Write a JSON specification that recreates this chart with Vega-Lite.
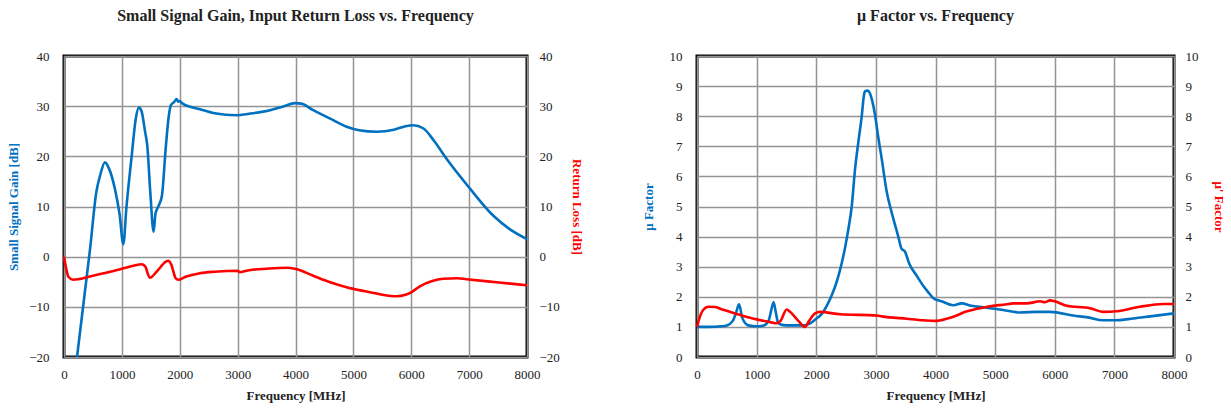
{
  "$schema": "https://vega.github.io/schema/vega-lite/v6.json",
  "padding": {"left": 6, "top": 6, "right": 2, "bottom": 2},
  "bounds": "flush",
  "spacing": 170,
  "config": {
    "font": "Liberation Serif",
    "view": {"stroke": "black", "strokeWidth": 3},
    "axis": {
      "gridColor": "#949494", "gridWidth": 1.5, "domain": false, "ticks": false,
      "labelFont": "Liberation Serif", "labelFontSize": 13, "labelColor": "#222222",
      "titleFont": "Liberation Serif", "titleFontSize": 13, "titleFontWeight": "bold", "titleColor": "#222222"
    },
    "title": {"font": "Liberation Serif", "fontSize": 16, "fontWeight": "bold", "color": "#222222", "offset": 26}
  },
  "datasets": {
    "gain": [
      {"f": 225, "v": -20}, {"f": 450, "v": 1.5}, {"f": 560, "v": 13}, {"f": 620, "v": 16}, {"f": 708, "v": 18.8},
      {"f": 780, "v": 17.5}, {"f": 880, "v": 13.5}, {"f": 960, "v": 8.5}, {"f": 1025, "v": 2.5}, {"f": 1080, "v": 10},
      {"f": 1169, "v": 20}, {"f": 1240, "v": 27.5}, {"f": 1295, "v": 29.7}, {"f": 1340, "v": 29}, {"f": 1400, "v": 25},
      {"f": 1440, "v": 22}, {"f": 1490, "v": 13}, {"f": 1549, "v": 5.0}, {"f": 1580, "v": 8.5}, {"f": 1620, "v": 9.8},
      {"f": 1690, "v": 12}, {"f": 1760, "v": 22}, {"f": 1810, "v": 28}, {"f": 1848, "v": 30.2}, {"f": 1900, "v": 30.8},
      {"f": 1946, "v": 31.4}, {"f": 1975, "v": 30.9}, {"f": 2000, "v": 31}, {"f": 2050, "v": 30.5}, {"f": 2349, "v": 29.4},
      {"f": 2600, "v": 28.6}, {"f": 2982, "v": 28.2}, {"f": 3200, "v": 28.5}, {"f": 3558, "v": 29.2}, {"f": 3800, "v": 30},
      {"f": 3990, "v": 30.6}, {"f": 4100, "v": 30.5}, {"f": 4306, "v": 29.2}, {"f": 4600, "v": 27.5}, {"f": 4883, "v": 25.9},
      {"f": 5100, "v": 25.2}, {"f": 5401, "v": 24.9}, {"f": 5700, "v": 25.3}, {"f": 5900, "v": 26}, {"f": 6033, "v": 26.2},
      {"f": 6206, "v": 25.6}, {"f": 6400, "v": 23}, {"f": 6610, "v": 19.5}, {"f": 7012, "v": 13.6}, {"f": 7415, "v": 8.2},
      {"f": 7700, "v": 5.5}, {"f": 8000, "v": 3.5}
    ],
    "rl": [
      {"f": 0, "v": 0}, {"f": 40, "v": -2.5}, {"f": 75, "v": -4.0}, {"f": 160, "v": -4.6}, {"f": 250, "v": -4.5},
      {"f": 500, "v": -3.8}, {"f": 800, "v": -3.0}, {"f": 1000, "v": -2.4}, {"f": 1200, "v": -1.8}, {"f": 1342, "v": -1.5},
      {"f": 1400, "v": -1.9}, {"f": 1485, "v": -4.2}, {"f": 1600, "v": -3.0}, {"f": 1760, "v": -1.0}, {"f": 1802, "v": -0.8},
      {"f": 1850, "v": -1.5}, {"f": 1930, "v": -4.3}, {"f": 1975, "v": -4.6}, {"f": 2100, "v": -4.0}, {"f": 2349, "v": -3.3},
      {"f": 2600, "v": -3.0}, {"f": 3000, "v": -2.8}, {"f": 3040, "v": -3.1}, {"f": 3200, "v": -2.7}, {"f": 3500, "v": -2.4},
      {"f": 3846, "v": -2.2}, {"f": 3990, "v": -2.4}, {"f": 4306, "v": -3.8}, {"f": 4600, "v": -5.1}, {"f": 4883, "v": -6.1},
      {"f": 5200, "v": -6.9}, {"f": 5458, "v": -7.5}, {"f": 5746, "v": -7.9}, {"f": 5900, "v": -7.6}, {"f": 6000, "v": -7.1},
      {"f": 6149, "v": -5.9}, {"f": 6350, "v": -4.9}, {"f": 6552, "v": -4.4}, {"f": 6800, "v": -4.3}, {"f": 6955, "v": -4.5},
      {"f": 7473, "v": -5.1}, {"f": 8000, "v": -5.7}
    ],
    "mu": [
      {"f": 0, "v": 1.0}, {"f": 200, "v": 1.0}, {"f": 400, "v": 1.02}, {"f": 500, "v": 1.05}, {"f": 600, "v": 1.2},
      {"f": 660, "v": 1.5}, {"f": 705, "v": 1.75}, {"f": 760, "v": 1.3}, {"f": 861, "v": 1.05}, {"f": 1001, "v": 1.02},
      {"f": 1120, "v": 1.05}, {"f": 1200, "v": 1.2}, {"f": 1250, "v": 1.6}, {"f": 1285, "v": 1.82}, {"f": 1320, "v": 1.5},
      {"f": 1364, "v": 1.12}, {"f": 1450, "v": 1.06}, {"f": 1560, "v": 1.05}, {"f": 1812, "v": 1.05}, {"f": 1900, "v": 1.12},
      {"f": 1980, "v": 1.24}, {"f": 2100, "v": 1.45}, {"f": 2176, "v": 1.7}, {"f": 2260, "v": 2.05}, {"f": 2343, "v": 2.5},
      {"f": 2400, "v": 2.9}, {"f": 2480, "v": 3.6}, {"f": 2539, "v": 4.25}, {"f": 2595, "v": 5.0}, {"f": 2651, "v": 6.25},
      {"f": 2710, "v": 7.2}, {"f": 2763, "v": 8.0}, {"f": 2800, "v": 8.7}, {"f": 2818, "v": 8.83}, {"f": 2860, "v": 8.85},
      {"f": 2890, "v": 8.8}, {"f": 2940, "v": 8.5}, {"f": 2985, "v": 8.05}, {"f": 3040, "v": 7.3}, {"f": 3097, "v": 6.6},
      {"f": 3181, "v": 5.5}, {"f": 3265, "v": 4.8}, {"f": 3320, "v": 4.4}, {"f": 3376, "v": 4.0}, {"f": 3430, "v": 3.6},
      {"f": 3488, "v": 3.5}, {"f": 3560, "v": 3.1}, {"f": 3685, "v": 2.7}, {"f": 3800, "v": 2.35}, {"f": 3900, "v": 2.1},
      {"f": 3964, "v": 1.95}, {"f": 4100, "v": 1.85}, {"f": 4300, "v": 1.72}, {"f": 4440, "v": 1.78}, {"f": 4600, "v": 1.7},
      {"f": 4803, "v": 1.65}, {"f": 5082, "v": 1.58}, {"f": 5417, "v": 1.48}, {"f": 5700, "v": 1.5}, {"f": 5920, "v": 1.5},
      {"f": 6311, "v": 1.38}, {"f": 6600, "v": 1.3}, {"f": 6800, "v": 1.22}, {"f": 7000, "v": 1.22}, {"f": 7317, "v": 1.28},
      {"f": 7600, "v": 1.35}, {"f": 8000, "v": 1.45}
    ],
    "mup": [
      {"f": 0, "v": 1.0}, {"f": 50, "v": 1.35}, {"f": 106, "v": 1.57}, {"f": 190, "v": 1.67}, {"f": 300, "v": 1.66},
      {"f": 441, "v": 1.57}, {"f": 721, "v": 1.4}, {"f": 1001, "v": 1.25}, {"f": 1200, "v": 1.17}, {"f": 1337, "v": 1.12},
      {"f": 1400, "v": 1.2}, {"f": 1504, "v": 1.58}, {"f": 1560, "v": 1.5}, {"f": 1700, "v": 1.2}, {"f": 1812, "v": 1.0},
      {"f": 1880, "v": 1.2}, {"f": 1980, "v": 1.45}, {"f": 2064, "v": 1.5}, {"f": 2400, "v": 1.42}, {"f": 3014, "v": 1.38},
      {"f": 3100, "v": 1.35}, {"f": 3517, "v": 1.27}, {"f": 3800, "v": 1.22}, {"f": 3993, "v": 1.2}, {"f": 4200, "v": 1.28},
      {"f": 4356, "v": 1.38}, {"f": 4500, "v": 1.5}, {"f": 4700, "v": 1.6}, {"f": 4888, "v": 1.68}, {"f": 5196, "v": 1.75},
      {"f": 5300, "v": 1.78}, {"f": 5531, "v": 1.78}, {"f": 5754, "v": 1.85}, {"f": 5830, "v": 1.82}, {"f": 5920, "v": 1.88},
      {"f": 6000, "v": 1.85}, {"f": 6200, "v": 1.7}, {"f": 6591, "v": 1.62}, {"f": 6814, "v": 1.5}, {"f": 7038, "v": 1.52},
      {"f": 7430, "v": 1.67}, {"f": 7821, "v": 1.76}, {"f": 8000, "v": 1.76}
    ]
  },
  "hconcat": [
    {
      "title": "Small Signal Gain, Input Return Loss vs. Frequency",
      "width": 463,
      "height": 301,
      "resolve": {"scale": {"y": "independent"}},
      "layer": [
        {
          "data": {"name": "gain"},
          "mark": {"type": "line", "color": "#0070C0", "strokeWidth": 2.6, "interpolate": "monotone"},
          "encoding": {
            "x": {"field": "f", "type": "quantitative", "scale": {"domain": [0, 8000], "nice": false},
                  "axis": {"title": "Frequency [MHz]", "format": "d", "values": [0,1000,2000,3000,4000,5000,6000,7000,8000], "labelPadding": 11, "titlePadding": 8, "labelFlush": false}},
            "y": {"field": "v", "type": "quantitative", "scale": {"domain": [-20, 40], "nice": false},
                  "axis": {"title": "Small Signal Gain [dB]", "titleColor": "#0070C0", "format": "d", "values": [-20,-10,0,10,20,30,40], "labelPadding": 15, "titlePadding": 8, "labelFlush": false}}
          }
        },
        {
          "data": {"name": "rl"},
          "mark": {"type": "line", "color": "#FF0000", "strokeWidth": 2.6, "interpolate": "monotone"},
          "encoding": {
            "x": {"field": "f", "type": "quantitative"},
            "y": {"field": "v", "type": "quantitative", "scale": {"domain": [-20, 40], "nice": false},
                  "axis": {"orient": "right", "grid": false, "title": "Return Loss [dB]", "titleColor": "#FF0000", "format": "d", "values": [-20,-10,0,10,20,30,40], "labelPadding": 12, "titlePadding": 10, "labelFlush": false}}
          }
        }
      ]
    },
    {
      "title": "μ Factor vs. Frequency",
      "width": 477,
      "height": 301,
      "resolve": {"scale": {"y": "independent"}},
      "layer": [
        {
          "data": {"name": "mu"},
          "mark": {"type": "line", "color": "#0070C0", "strokeWidth": 2.6, "interpolate": "monotone"},
          "encoding": {
            "x": {"field": "f", "type": "quantitative", "scale": {"domain": [0, 8000], "nice": false},
                  "axis": {"title": "Frequency [MHz]", "format": "d", "values": [0,1000,2000,3000,4000,5000,6000,7000,8000], "labelPadding": 11, "titlePadding": 8, "labelFlush": false}},
            "y": {"field": "v", "type": "quantitative", "scale": {"domain": [0, 10], "nice": false},
                  "axis": {"title": "μ Factor", "titleColor": "#0070C0", "format": "d", "values": [0,1,2,3,4,5,6,7,8,9,10], "labelPadding": 15, "titlePadding": 14, "labelFlush": false}}
          }
        },
        {
          "data": {"name": "mup"},
          "mark": {"type": "line", "color": "#FF0000", "strokeWidth": 2.6, "interpolate": "monotone"},
          "encoding": {
            "x": {"field": "f", "type": "quantitative"},
            "y": {"field": "v", "type": "quantitative", "scale": {"domain": [0, 10], "nice": false},
                  "axis": {"orient": "right", "grid": false, "title": "μ' Factor", "titleColor": "#FF0000", "format": "d", "values": [0,1,2,3,4,5,6,7,8,9,10], "labelPadding": 11, "titlePadding": 13, "labelFlush": false}}
          }
        }
      ]
    }
  ]
}
